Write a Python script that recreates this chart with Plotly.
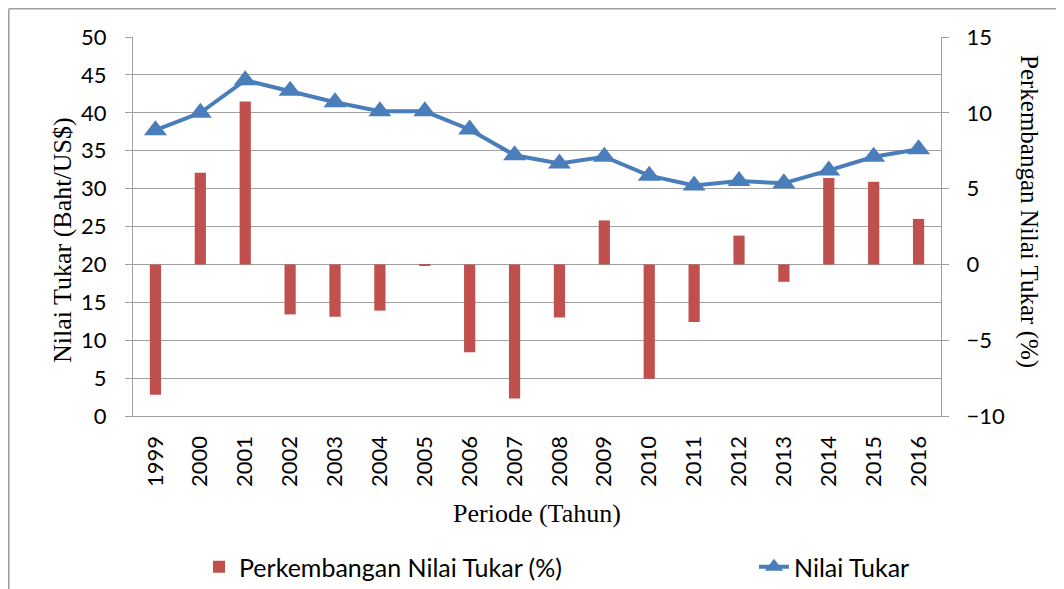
import plotly.graph_objects as go

years = ["1999", "2000", "2001", "2002", "2003", "2004", "2005", "2006", "2007",
         "2008", "2009", "2010", "2011", "2012", "2013", "2014", "2015", "2016"]
nilai_tukar = [37.7, 40.0, 44.3, 42.9, 41.4, 40.2, 40.2, 37.8, 34.4,
               33.3, 34.2, 31.7, 30.4, 31.0, 30.7, 32.4, 34.2, 35.2]
perkembangan = [-8.6, 6.05, 10.75, -3.3, -3.45, -3.05, -0.07, -5.8, -8.85,
                -3.5, 2.9, -7.55, -3.8, 1.9, -1.15, 5.7, 5.45, 3.0]

left_ticks = [0, 5, 10, 15, 20, 25, 30, 35, 40, 45, 50]
right_ticks = [-10, -5, 0, 5, 10, 15]

BAR = "#C0504D"
LINE = "#4A7EBB"
GRID = "#A0A0A0"
TICKFONT = dict(family="Lato", size=22, color="black")
SERIF = "Liberation Serif"

# the page body has an 8px margin, so the figure is drawn 8px in from the corner
OFF = 8
SW, SH = 1064, 589                   # screen size
W, H = SW - OFF, SH - OFF            # figure size
PL, PR, PT, PB = 133, 941, 37, 416   # plot area on screen
L, R, T, B = PL - OFF, SW - PR, PT - OFF, SH - PB
PW, PH = PR - PL, PB - PT


def px_x(sx):
    return (sx - PL) / PW


def px_y(sy):
    return (PB - sy) / PH


fig = go.Figure()
fig.add_trace(go.Bar(
    x=years, y=perkembangan, name="Perkembangan Nilai Tukar (%)",
    marker=dict(color=BAR, line=dict(width=0)), yaxis="y", legend="legend",
))
fig.add_trace(go.Scatter(
    x=years, y=nilai_tukar, name="Nilai Tukar", mode="lines+markers",
    line=dict(color=LINE, width=4),
    marker=dict(symbol="triangle-up", size=20, color=LINE),
    yaxis="y2", legend="legend2",
))

fig.update_layout(
    width=W, height=H,
    margin=dict(l=L, r=R, t=T, b=B, autoexpand=False),
    paper_bgcolor="white", plot_bgcolor="white",
    showlegend=True,
    bargap=0.75,
    xaxis=dict(
        type="category", range=[-0.5, len(years) - 0.5],
        tickangle=-90, tickfont=TICKFONT,
        showline=True, linecolor=GRID, linewidth=1.3,
        showgrid=False, ticks="", ticklabelstandoff=10,
    ),
    yaxis=dict(
        side="right", range=[-10, 15], tickvals=right_ticks,
        showgrid=False, zeroline=False,
        showline=True, linecolor=GRID, linewidth=1.3,
        ticks="outside", ticklen=7, tickcolor=GRID, tickwidth=1.3,
        tickfont=TICKFONT, ticklabelstandoff=13,
    ),
    yaxis2=dict(
        side="left", overlaying="y", range=[0, 50], tickvals=left_ticks,
        showgrid=True, gridcolor=GRID, gridwidth=1.3, zeroline=False,
        showline=True, linecolor=GRID, linewidth=1.3,
        ticks="outside", ticklen=7, tickcolor=GRID, tickwidth=1.3,
        tickfont=TICKFONT, ticklabelstandoff=14,
    ),
    legend=dict(
        x=px_x(199), y=px_y(567), xanchor="left", yanchor="middle",
        orientation="h", font=dict(family="Lato", size=25, color="black"),
        bgcolor="rgba(0,0,0,0)",
    ),
    legend2=dict(
        x=px_x(754), y=px_y(567), xanchor="left", yanchor="middle",
        orientation="h", font=dict(family="Lato", size=25, color="black"),
        bgcolor="rgba(0,0,0,0)",
    ),
    annotations=[
        dict(text="Nilai Tukar (Baht/US$)", xref="paper", yref="paper",
             x=px_x(62), y=px_y(240), xanchor="center", yanchor="middle",
             textangle=-90, showarrow=False,
             font=dict(family=SERIF, size=26, color="black")),
        dict(text="Perkembangan Nilai Tukar (%)", xref="paper", yref="paper",
             x=px_x(1029), y=px_y(211), xanchor="center", yanchor="middle",
             textangle=90, showarrow=False,
             font=dict(family=SERIF, size=25, color="black")),
        dict(text="Periode (Tahun)", xref="paper", yref="paper",
             x=px_x(537), y=px_y(513), xanchor="center", yanchor="middle",
             showarrow=False,
             font=dict(family=SERIF, size=26, color="black")),
    ],
    shapes=[
        dict(type="line", xref="paper", yref="paper",
             x0=px_x(8.8), y0=px_y(8.8), x1=px_x(8.8), y1=px_y(SH),
             line=dict(color=GRID, width=1.6)),
        dict(type="line", xref="paper", yref="paper",
             x0=px_x(8.8), y0=px_y(8.8), x1=px_x(SW), y1=px_y(8.8),
             line=dict(color=GRID, width=1.6)),
    ],
)

fig.write_html("out.html")
